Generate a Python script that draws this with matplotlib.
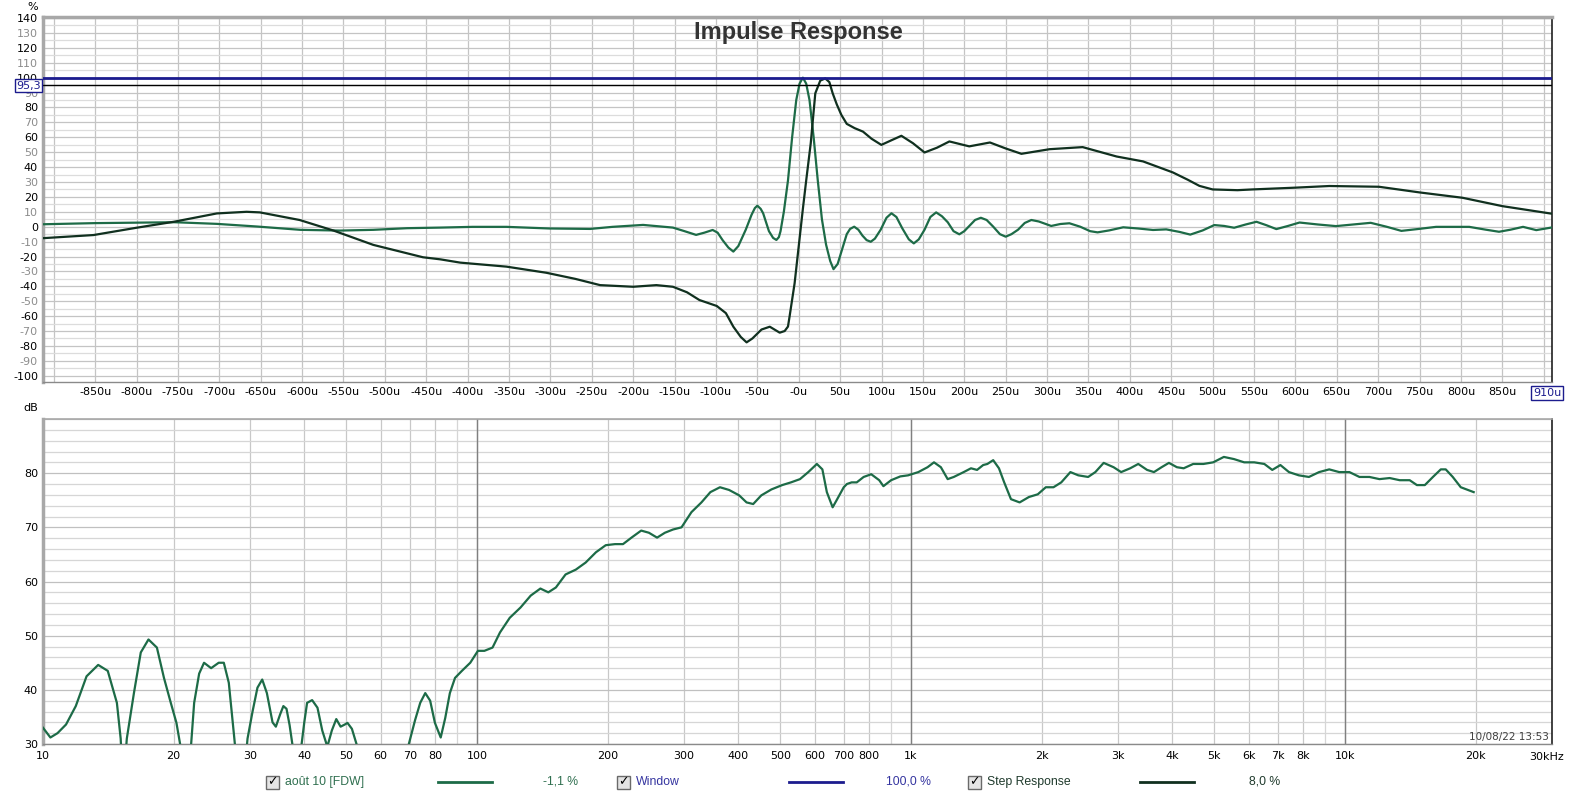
import matplotlib.pyplot as plt
from matplotlib.patches import Rectangle
from matplotlib.lines import Line2D

plt.rcParams['font.family'] = 'DejaVu Sans'

# ---- impulse response (us, %) ----
imp_t = [-916, -850, -797, -754, -703, -654, -602, -554, -514, -473, -433, -394, -353,
         -301, -252, -225, -188, -152, -138, -124, -114, -104, -98, -92, -85, -79, -73, -64,
         -57, -53, -50, -46, -43, -36, -31, -27, -24, -22, -18, -13, -8, -3, 1, 5, 9, 13,
         18, 23, 28, 33, 38, 42, 47, 52, 58, 62, 67, 72, 77, 82, 87, 92, 99, 106, 112, 118,
         125, 133, 139, 145, 152, 159, 166, 173, 180, 187, 194, 200, 207, 213, 220, 227,
         235, 243, 250, 257, 265, 273, 281, 290, 305, 316, 327, 340, 352, 361, 375, 392,
         410, 428, 444, 460, 473, 488, 502, 514, 526, 540, 553, 565, 577, 591, 605, 627,
         649, 670, 691, 710, 728, 749, 770, 810, 830, 846, 860, 875, 891, 910]
imp_v = [1.6, 2.4, 2.7, 3.0, 1.9, 0.1, -2.1, -2.6, -2.1, -1.0, -0.6, -0.1, -0.1,
         -1.2, -1.5, -0.1, 1.2, -0.6, -3, -5.5, -4, -2.2, -4, -9, -14, -16.7, -13, -2,
         8, 12.5, 14.1, 12, 9, -3, -7.5, -8.9, -7, -3, 10, 31, 60, 85, 96, 100, 96, 85,
         60, 31, 5, -12, -23, -28.5, -25, -16, -5, -1.5, 0, -2, -6, -9, -10.1, -8, -2, 6, 9, 6.5,
         -1, -8.5, -11.2, -8.5, -2, 6.5, 9.6, 7, 3, -3, -5.1, -3, 1, 4.5, 6, 4.5,
         0, -5, -6.7, -5, -2, 2.5, 4.5, 3.5, 0.5, 1.8, 2.3, 0, -3, -3.8, -2.5, -0.4,
         -1.2, -2.2, -1.8, -3.5, -5.3, -2.5, 1.1, 0.5, -0.7, 1.5, 3.3, 1, -1.6, 0.5, 2.8, 1.5,
         0.4, 1.5, 2.6, 0, -2.8, -1.5, -0.1, -0.1, -2, -3.4, -2, -0.1, -2.3, -0.5]

# ---- step response (us, %) ----
step_t = [-916, -852, -800, -755, -703, -667, -651, -603, -562, -514, -454, -433, -409,
          -353, -305, -270, -240, -200, -172, -152, -135, -120, -99, -88, -79, -70, -63,
          -56, -45, -35, -23, -17, -13, -11, -5, 1, 5, 9, 14.5, 20, 26, 32, 37, 41, 46,
          51.5, 58, 67.6, 77.6, 88, 99.8, 112, 124, 138, 152, 167, 182, 206, 231, 250,
          269, 303, 343, 384, 416, 452, 470, 484, 500, 530, 548, 600, 641, 701, 750,
          802, 850, 910]
step_v = [-7.8, -5.6, -0.7, 3.3, 8.9, 10.0, 9.6, 4.5, -2.6, -12.2, -20.5, -21.9, -24.1,
          -26.8, -30.9, -35, -39.2, -40.3, -39.2, -40.3, -44, -49.2, -53.2, -58, -67.1, -74, -77.6,
          -75, -69, -67.1, -71.1, -70, -67, -60, -38, -8, 12, 31, 56, 89.5, 98, 99.5, 97, 89.5, 82,
          75, 69, 66.1, 63.8, 59, 54.9, 58, 61.0, 56, 49.8, 53, 57.2, 53.9, 56.5, 52.5,
          48.9, 52.0, 53.4, 47.1, 43.8, 36.4, 31.5, 27.4, 25.0, 24.5, 25.0, 26.2, 27.3, 26.8, 23.0,
          19.4, 13.8, 8.7]

window_level = 100.0
cursor_level = 95.3

# ---- frequency response (Hz, dB) ----
freq = [10, 10.4, 10.8, 11.3, 11.9, 12.6, 13.4, 14.1, 14.8, 15.1, 15.3, 15.6, 16.2, 16.8,
        17.5, 18.3, 19.0, 19.7, 20.3, 20.8, 21.3, 21.9, 22.3, 22.9, 23.5, 24.4, 25.4, 26.1,
        26.8, 27.6, 28.6, 29.6, 30.4, 31.2, 32.0, 32.8, 33.8, 34.4, 35.2, 35.8, 36.4, 37.0,
        37.7, 38.5, 39.3, 40.0, 40.6, 41.7, 42.9, 44.0, 45.2, 46.3, 47.4, 48.5, 49.6, 50.3,
        51.5, 53, 56, 62, 68, 69.4, 72, 74, 76, 78, 80, 82.5, 84.5, 86.6, 89, 92.3, 96.5,
        100.5, 104, 108.6, 113, 119, 126, 133, 140, 146, 152, 160, 169, 178, 188, 198, 208,
        217, 227, 239, 249, 260, 271, 283, 296, 312, 329, 345, 363, 381, 402, 418, 433, 452,
        477, 505, 529, 555, 580, 607, 625, 640, 660, 674, 700, 712, 730, 750, 778, 810, 845,
        864, 900, 945, 985, 1040, 1092, 1130, 1172, 1215, 1255, 1323, 1375, 1420, 1467, 1500,
        1547, 1595, 1640, 1700, 1780, 1870, 1960, 2045, 2130, 2220, 2330, 2430, 2560, 2660,
        2780, 2930, 3050, 3200, 3340, 3500, 3630, 3780, 3930, 4100, 4250, 4470, 4720, 4970,
        5260, 5550, 5860, 6180, 6520, 6800, 7100, 7430, 7830, 8260, 8720, 9200, 9700, 10240,
        10800, 11390, 12010, 12680, 13370, 14100, 14650, 15280, 15950, 16630, 17070, 17720,
        18490, 19800]
level = [33, 31.2, 32, 33.6, 37, 42.5, 44.6, 43.5, 37.6, 31, 22, 31, 39.4, 46.9,
         49.3, 47.8, 42.2, 37.6, 33.9, 29, 18, 29, 37.6, 43, 45, 44, 45, 45,
         41.3, 31, 18, 31, 36, 40.4, 41.9, 39.4, 34, 33.2, 35.5, 37, 36.5, 33.5,
         29, 20, 29, 34, 37.6, 38.1, 36.7, 32.5, 29.5, 32.5, 34.6, 33.2, 33.6, 33.9,
         32.8, 29.5, 20, 12, 22, 29.5, 34.4, 37.6, 39.4, 38, 33.9, 31.2, 34.8, 39.4, 42.2, 43.5, 45,
         47.2, 47.2, 47.8, 50.6, 53.3, 55.2, 57.4, 58.7, 58, 58.9, 61.3, 62.2, 63.5, 65.4, 66.7, 66.9,
         66.9, 68.1, 69.4, 69, 68.1, 69, 69.6, 70, 72.8, 74.6, 76.5, 77.4, 76.9, 75.9, 74.6, 74.3, 75.9,
         77, 77.8, 78.3, 78.9, 80.2, 81.7, 80.7, 76.5, 73.7, 75, 77.4, 78, 78.3, 78.3, 79.3, 79.8, 78.7,
         77.6, 78.7, 79.4, 79.6, 80.2, 81.1, 82, 81.1, 78.9, 79.3, 80.2, 80.9, 80.6, 81.5, 81.7,
         82.4, 80.9, 78.3, 75.2, 74.6, 75.6, 76.1, 77.4, 77.4, 78.3, 80.2, 79.6, 79.3, 80.2,
         81.9, 81.1, 80.2, 80.9, 81.7, 80.6, 80.2, 81.1, 81.9, 81.1, 80.9, 81.7, 81.7, 82,
         83, 82.6, 82, 82, 81.7, 80.6, 81.5, 80.2, 79.6, 79.3, 80.2, 80.7, 80.2, 80.2,
         79.3, 79.3, 78.9, 79.1, 78.7, 78.7, 77.8, 77.8, 79.3, 80.7, 80.7, 79.3,
         77.4, 76.5]

freq_ticks = [10, 20, 30, 40, 50, 60, 70, 80, 100, 200, 300, 400, 500, 600, 700, 800,
              1000, 2000, 3000, 4000, 5000, 6000, 7000, 8000, 10000, 20000]
freq_labels = ['10', '20', '30', '40', '50', '60', '70', '80', '100', '200', '300', '400',
               '500', '600', '700', '800', '1k', '2k', '3k', '4k', '5k', '6k', '7k', '8k',
               '10k', '20k']
freq_grid = [m * d for d in (10, 100, 1000) for m in range(2, 10)] + [20000]
decades = [100, 1000, 10000]

GREEN = '#1d6b47'
DARK = '#10301f'
NAVY = '#1c1c8e'

W, H = 1574, 797
fig = plt.figure(figsize=(W / 100, H / 100), dpi=100)


def fx(x):
    return x / W


def fy(y):
    return 1 - y / H


ax1 = fig.add_axes([fx(43), fy(382), fx(1552) - fx(43), fy(17) - fy(382)])
ax2 = fig.add_axes([fx(43), fy(744), fx(1552) - fx(43), fy(419) - fy(744)])

# ---------- top: impulse ----------
ax1.plot(imp_t, imp_v, color=GREEN, lw=1.6, zorder=3, solid_joinstyle='round')
ax1.plot(step_t, step_v, color=DARK, lw=1.6, zorder=4, solid_joinstyle='round')
ax1.axhline(window_level, color=NAVY, lw=2, zorder=5)
ax1.axhline(cursor_level, color='black', lw=1, zorder=5)

ax1.set_xlim(-913, 910)
ax1.set_ylim(-104.2, 140.7)
xt = list(range(-900, 901, 50))
ax1.set_xticks(xt)
ax1.set_xticklabels(['' if abs(v) == 900 else ('-0u' if v == 0 else f'{v}u') for v in xt])
yt = list(range(-100, 141, 10))
ax1.set_yticks(yt)
ax1.set_yticks(list(range(-100, 141, 5)), minor=True)
ax1.set_yticklabels([str(v) for v in yt])
for lab, v in zip(ax1.get_yticklabels(), yt):
    lab.set_color('black' if v % 20 == 0 else '#8c8c8c')
ax1.grid(which='major', color='#c4c4c4', lw=0.9)
ax1.grid(which='minor', axis='y', color='#dcdcdc', lw=0.9)
ax1.tick_params(which='both', length=0, labelsize=8)
ax1.tick_params(axis='x', pad=3.5)
ax1.tick_params(axis='y', pad=3.6)
ax1.set_axisbelow(True)

# ---------- bottom: frequency ----------
ax2.set_xscale('log')
ax2.plot(freq, level, color=GREEN, lw=1.6, zorder=3, solid_joinstyle='round')
ax2.set_xlim(10, 30000)
ax2.set_ylim(30, 90)
ax2.set_xticks(freq_ticks)
ax2.set_xticklabels(freq_labels)
ax2.set_xticks(freq_grid, minor=True)
ax2.set_yticks([30, 40, 50, 60, 70, 80, 90])
ax2.set_yticklabels(['30', '40', '50', '60', '70', '80', ''])
ax2.set_yticks(list(range(30, 91, 2)), minor=True)
ax2.grid(which='minor', color='#d6d6d6', lw=0.9)
ax2.grid(which='major', axis='y', color='#c0c0c0', lw=0.9)
ax2.grid(which='major', axis='x', color='#c8c8c8', lw=0.9)
for d in decades:
    ax2.axvline(d, color='#808080', lw=1, zorder=1)
ax2.tick_params(which='both', length=0, labelsize=8)
ax2.tick_params(axis='x', pad=4.8)
ax2.tick_params(axis='y', pad=3.6)
ax2.set_axisbelow(True)
ax2.annotate('30kHz', xy=(30000, 0), xycoords=('data', 'axes fraction'),
             xytext=(-4, -9.4), textcoords='offset points', ha='center', va='center', fontsize=8)

for ax in (ax1, ax2):
    ax.spines['left'].set_color('#a8a8a8')
    ax.spines['left'].set_linewidth(2.5)
    ax.spines['top'].set_color('#a8a8a8')
    ax.spines['top'].set_linewidth(2.5 if ax is ax1 else 1.2)
    ax.spines['bottom'].set_color('#8a8a8a')
    ax.spines['bottom'].set_linewidth(1)
    ax.spines['right'].set_color('#202020')
    ax.spines['right'].set_linewidth(1.2)

# ---------- texts ----------
fig.text(fx(798), fy(33), 'Impulse Response', ha='center', va='center', fontsize=17,
         fontweight='bold', color='#333333', family='Liberation Sans')
fig.text(fx(33), fy(7), '%', ha='center', va='center', fontsize=8)
fig.text(fx(31), fy(408), 'dB', ha='center', va='center', fontsize=8)
fig.text(fx(28.5), fy(85.5), '95,3', ha='center', va='center', fontsize=8, color=NAVY, zorder=10,
         bbox=dict(boxstyle='square,pad=0.15', fc='white', ec=NAVY, lw=1))
fig.text(fx(1547), fy(393), '910u', ha='center', va='center', fontsize=8, color=NAVY, zorder=10,
         bbox=dict(boxstyle='square,pad=0.15', fc='white', ec=NAVY, lw=1))
fig.text(fx(1549), fy(737), '10/08/22 13:53', ha='right', va='center', fontsize=7.5,
         color='#404040')

# ---------- legend row ----------
legend_items = [
    (266, 'août 10 [FDW]', GREEN, '#2f6f4f', 438, 492, 543, '-1,1 %'),
    (617, 'Window', NAVY, '#3535a0', 789, 843, 886, '100,0 %'),
    (968, 'Step Response', DARK, '#1f3a2c', 1140, 1194, 1249, '8,0 %'),
]
ly = 782
for cb_x, name, lc, tc, l0, l1, vx, val in legend_items:
    fig.add_artist(Rectangle((fx(cb_x), fy(ly + 6.5)), 13 / W, 13 / H, transform=fig.transFigure,
                             fc='#e4e4e4', ec='#6a6a6a', lw=1))
    fig.text(fx(cb_x + 6.5), fy(ly), '\u2713', ha='center', va='center', fontsize=9,
             fontweight='bold', color='black')
    fig.text(fx(cb_x + 19), fy(ly), name, ha='left', va='center', fontsize=8.8,
             color=tc, family='Liberation Sans')
    fig.add_artist(Line2D([fx(l0), fx(l1)], [fy(ly), fy(ly)], transform=fig.transFigure,
                          color=lc, lw=2))
    fig.text(fx(vx), fy(ly), val, ha='left', va='center', fontsize=8.8,
             color=tc, family='Liberation Sans')

fig.savefig('out.png', dpi=100)
